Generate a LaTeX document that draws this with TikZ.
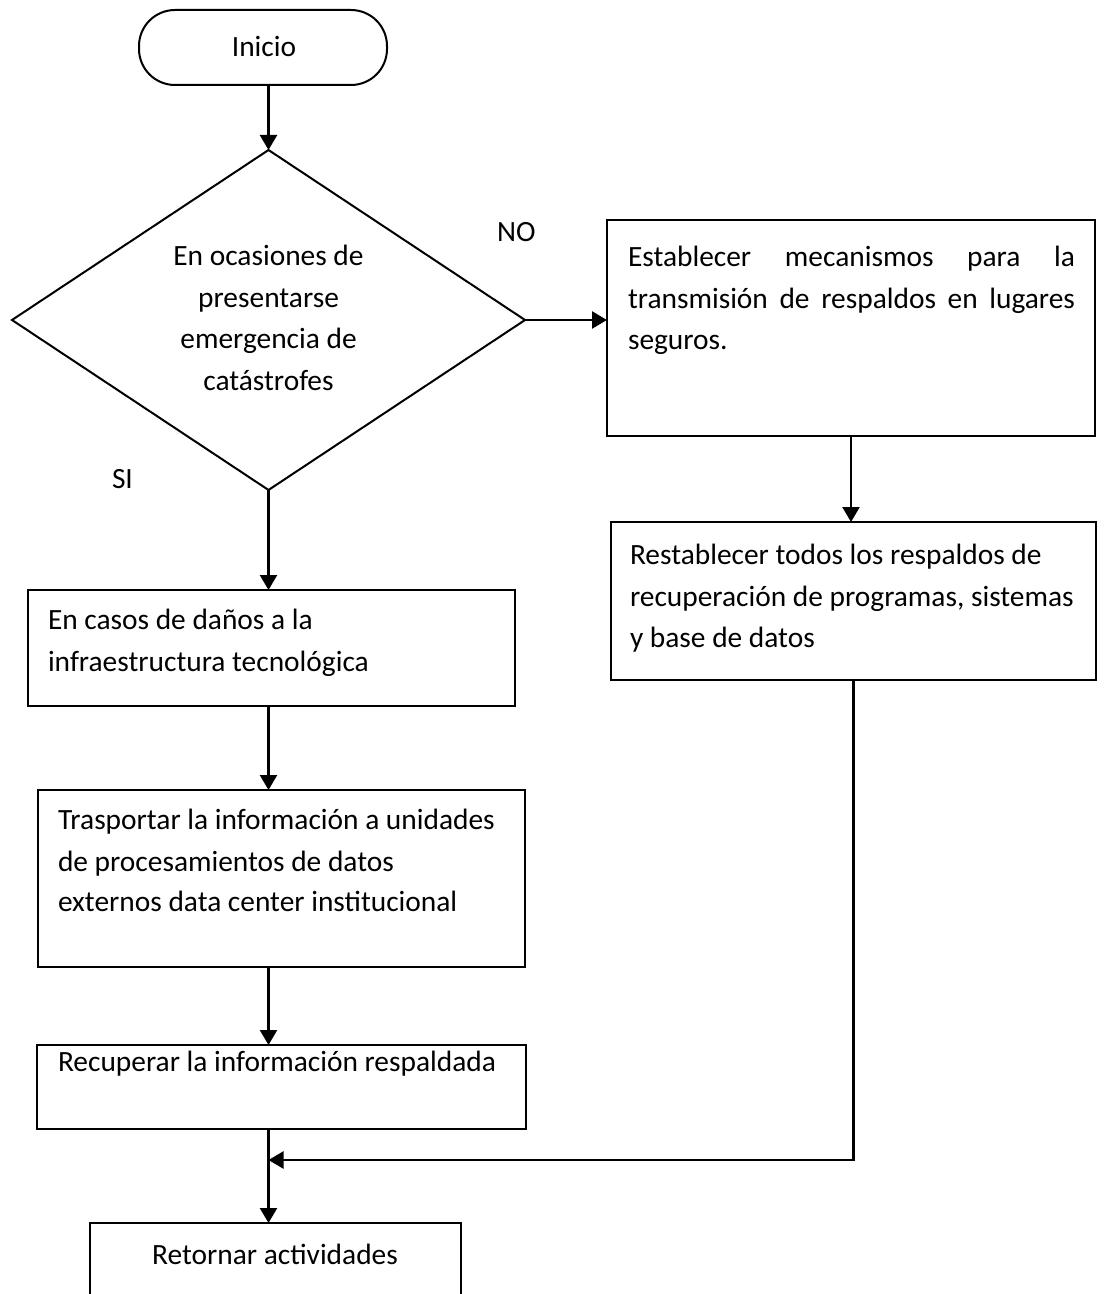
\documentclass[tikz,border=0pt]{standalone}
\usepackage{fontspec}
\setmainfont{Carlito}
\usetikzlibrary{shapes.geometric,arrows.meta}

\begin{document}
\begin{tikzpicture}[x=0.5pt,y=-0.5pt,
  flow/.style={draw, line width=1pt, inner sep=0pt, outer sep=0pt},
  procbox/.style={flow, rectangle},
  arr/.style={line width=1.2pt, -{Triangle[length=7.5pt,width=8.5pt]}},
  lbl/.style={inner sep=0pt, outer sep=0pt, font=\fontsize{14.7}{21}\selectfont},
  lline/.style={lbl, anchor=base west},
  cline/.style={lbl, anchor=base}]

\useasboundingbox (0,0) rectangle (1107,1294);
\clip (0,0) rectangle (1107,1294);

% shapes
\node[flow, rectangle, rounded corners=18pt, minimum width=124pt, minimum height=37.5pt] (ini) at (263,47.5) {};
\node[flow, diamond, aspect=1.5, minimum width=256.5pt, minimum height=170pt] (dec) at (268.5,320) {};
\node[procbox, minimum width=244pt,   minimum height=108pt]  (b1) at (851,328) {};
\node[procbox, minimum width=242.5pt, minimum height=79pt]   (b2) at (853.5,601) {};
\node[procbox, minimum width=243.5pt, minimum height=58pt]   (b3) at (271.5,648) {};
\node[procbox, minimum width=243.5pt, minimum height=88.5pt] (b4) at (281.5,878.5) {};
\node[procbox, minimum width=244.5pt, minimum height=42pt]   (b5) at (281.5,1087) {};
\node[procbox, minimum width=185.5pt, minimum height=53.5pt] (b6) at (275.5,1276.5) {};
\coordinate (join) at (268.5,1160);

% connectors
\draw[arr] (ini.south -| dec.north) -- (dec.north);
\draw[arr] (dec.east) -- (dec.east -| b1.west);
\draw[arr] (b1.south) -- (b1.south |- b2.north);
\draw[arr] (dec.south) -- (dec.south |- b3.north);
\draw[arr] (dec.south |- b3.south) -- (dec.south |- b4.north);
\draw[arr] (dec.south |- b4.south) -- (dec.south |- b5.north);
\draw[arr] (dec.south |- b5.south) -- (dec.south |- b6.north);
\draw[arr] (b2.south) |- (join);

% texts
\node[cline] (tini) at (264,57) {Inicio};
\node[lline] (tno) at (497,242) {NO};
\node[lline] (tsi) at (112,488) {SI};

\node[cline] (d1) at (268.5,266) {En ocasiones de};
\node[cline] (d2) at (268.5,307.5) {presentarse};
\node[cline] (d3) at (268.5,349) {emergencia de};
\node[cline] (d4) at (268.5,390) {catástrofes};

\node[lline] (t11) at (628,267) {\makebox[223.5pt][s]{Establecer mecanismos para la}};
\node[lline] (t12) at (628,309) {\makebox[223.5pt][s]{transmisión de respaldos en lugares}};
\node[lline] (t13) at (628,350) {seguros.};

\node[lline] (t21) at (630,564) {Restablecer todos los respaldos de};
\node[lline] (t22) at (630,606) {recuperación de programas, sistemas};
\node[lline] (t23) at (630,647) {y base de datos};

\node[lline] (t31) at (48,629) {En casos de daños a la};
\node[lline] (t32) at (48,671) {infraestructura tecnológica};

\node[lline] (t41) at (58,829) {Trasportar la información a unidades};
\node[lline] (t42) at (58,871) {de procesamientos de datos};
\node[lline] (t43) at (58,911) {externos data center institucional};

\node[lline] (t51) at (58,1071) {Recuperar la información respaldada};

\node[cline] (t61) at (275,1264) {Retornar actividades};
\end{tikzpicture}
\end{document}
